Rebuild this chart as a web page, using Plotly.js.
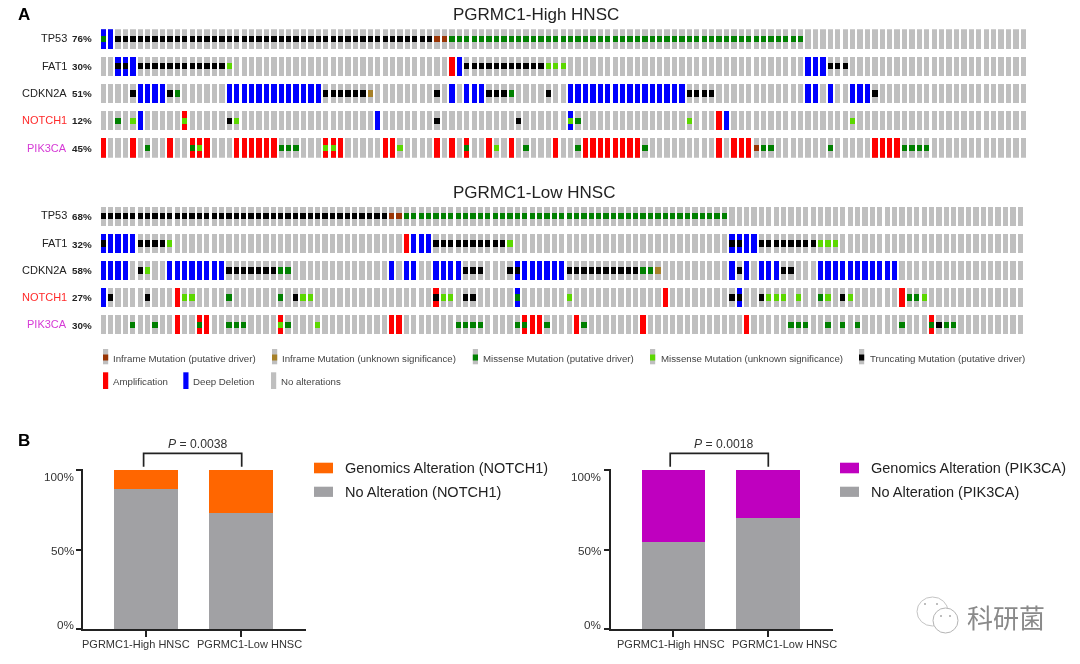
<!DOCTYPE html>
<html>
<head>
<meta charset="utf-8">
<script src="https://cdn.plot.ly/plotly-3.0.1.min.js"></script>
<style>html,body{margin:0;padding:0;background:#fff;overflow:hidden}#chart{width:1080px;height:664px;filter:blur(0.35px)}</style>
</head>
<body>
<div id="chart"></div>
<script>
// ---------- Oncoprint data: one list per gene, holding altered sample columns ----------
const genes = ['TP53', 'FAT1', 'CDKN2A', 'NOTCH1', 'PIK3CA'];
const geneColors = ['#222222', '#222222', '#222222', '#ff2a2a', '#d63ad6'];
const highPct = ['76%', '30%', '51%', '12%', '45%'];
const lowPct = ['68%', '32%', '58%', '27%', '30%'];
const sampleCount = 125;

const highAmp = [[], [47], [], [11, 83], [0,4,9,12,13,14,18,19,20,21,22,23,30,31,32,38,39,45,47,49,52,55,61,65,66,67,68,69,70,71,72,83,85,86,87,104,105,106,107]];
const highDel = [[0,1], [2,3,4,48,95,96,97], [5,6,7,8,17,18,19,20,21,22,23,24,25,26,27,28,29,47,49,50,51,63,64,65,66,67,68,69,70,71,72,73,74,75,76,77,78,95,96,98,101,102,103], [5,37,63,84], []];
const highMissense = [[0,47,48,49,50,51,52,53,54,55,56,57,58,59,60,61,62,63,64,65,66,67,68,69,70,71,72,73,74,75,76,77,78,79,80,81,82,83,84,85,86,87,88,89,90,91,92,93,94], [], [10,55], [2,64], [6,12,24,25,26,49,57,64,73,89,90,98,108,109,110,111]];
const highMissenseUnk = [[], [17,60,61,62], [], [4,11,18,63,79,101], [13,30,31,40,53]];
const highTrunc = [[2,3,4,5,6,7,8,9,10,11,12,13,14,15,16,17,18,19,20,21,22,23,24,25,26,27,28,29,30,31,32,33,34,35,36,37,38,39,40,41,42,43,44], [2,3,5,6,7,8,9,10,11,12,13,14,15,16,49,50,51,52,53,54,55,56,57,58,59,98,99,100], [4,9,30,31,32,33,34,35,45,52,53,54,60,79,80,81,82,104], [17,45,56], []];
const highInframe = [[45,46], [], [], [], [88]];
const highInframeUnk = [[], [], [36], [], []];

const lowAmp = [[], [41], [], [10,45,76,108], [10,13,14,24,39,40,57,58,59,64,73,87,112]];
const lowDel = [[], [0,1,2,3,4,42,43,44,85,86,87,88], [0,1,2,3,9,10,11,12,13,14,15,16,39,41,42,45,46,47,48,56,57,58,59,60,61,62,85,87,89,90,91,97,98,99,100,101,102,103,104,105,106,107], [0,56,86], []];
const lowMissense = [[41,42,43,44,45,46,47,48,49,50,51,52,53,54,55,56,57,58,59,60,61,62,63,64,65,66,67,68,69,70,71,72,73,74,75,76,77,78,79,80,81,82,83,84], [], [24,25,73,74], [17,24,56,97,109,110], [4,7,13,17,18,19,25,48,49,50,51,56,57,60,65,93,94,95,98,100,102,108,112,114,115]];
const lowMissenseUnk = [[], [9,55,97,98,99], [6], [11,12,27,28,46,47,63,90,91,92,94,98,101,111], [24,29]];
const lowTrunc = [[0,1,2,3,4,5,6,7,8,9,10,11,12,13,14,15,16,17,18,19,20,21,22,23,24,25,26,27,28,29,30,31,32,33,34,35,36,37,38], [0,5,6,7,8,45,46,47,48,49,50,51,52,53,54,85,86,89,90,91,92,93,94,95,96], [5,17,18,19,20,21,22,23,49,50,51,55,56,63,64,65,66,67,68,69,70,71,72,86,92,93], [1,6,26,45,49,50,85,86,89,100], [113]];
const lowInframe = [[39,40], [], [], [], []];
const lowInframeUnk = [[], [], [75], [], []];

// ---------- Stacked bar data (percent) ----------
const groups = ['PGRMC1-High HNSC', 'PGRMC1-Low HNSC'];
const notch1NoAlt = [88, 73];
const notch1Alt = [12, 27];
const pik3caNoAlt = [55, 70];
const pik3caAlt = [45, 30];
const pctTicks = [0, 50, 100];
const pctTickLabels = ['0%', '50%', '100%'];
const pctTickShift = [5, -1, -6];

// ---------- Styles ----------
const C = {grey:'#bfbfbf', amp:'#ff0000', del:'#0000ff', mis:'#008000', misU:'#5cd800', trunc:'#000000', inf:'#993404', infU:'#a68028',
           orange:'#ff6600', purple:'#bf00bf', bar:'#a1a1a4', axis:'#222222', text:'#333333'};
const SANS = '"Liberation Sans", Arial, sans-serif';
const W = 1080, H = 664;
const fx = p => p / W, fy = p => 1 - p / H;

// ---------- Trace helpers ----------
const COL_W = 0.715, ROW_H = 0.705, MUT_H = 0.235;
function collect(list, rowOffset, rowSpan) {
  const xs = [], bases = [], hs = [];
  list.forEach((cols, r) => cols.forEach(c => { xs.push(c); bases.push(r + rowOffset); hs.push(rowSpan); }));
  return {xs, bases, hs};
}
function barTrace(list, color, full, xa, ya) {
  const d = full ? collect(list, -ROW_H / 2, ROW_H) : collect(list, -MUT_H / 2, MUT_H);
  return {type:'bar', x:d.xs, y:d.hs, base:d.bases, width:COL_W, xaxis:xa, yaxis:ya, marker:{color:color, line:{width:0}}, hoverinfo:'skip', showlegend:false};
}
function bgTrace(xa, ya) {
  const all = genes.map(() => Array.from({length: sampleCount}, (_, i) => i));
  return barTrace(all, C.grey, true, xa, ya);
}
function panelTraces(xa, ya, amp, del, mis, misU, trunc, inf, infU) {
  return [bgTrace(xa, ya), barTrace(amp, C.amp, true, xa, ya), barTrace(del, C.del, true, xa, ya),
    barTrace(mis, C.mis, false, xa, ya), barTrace(misU, C.misU, false, xa, ya), barTrace(trunc, C.trunc, false, xa, ya),
    barTrace(inf, C.inf, false, xa, ya), barTrace(infU, C.infU, false, xa, ya)];
}
function stackTraces(xa, ya, noAlt, alt, color) {
  return [
    {type:'bar', x:groups, y:noAlt, width:0.67, xaxis:xa, yaxis:ya, marker:{color:C.bar, line:{width:0}}, hoverinfo:'skip', showlegend:false},
    {type:'bar', x:groups, y:alt, base:noAlt, width:0.67, xaxis:xa, yaxis:ya, marker:{color:color, line:{width:0}}, hoverinfo:'skip', showlegend:false}
  ];
}
const data = [].concat(
  panelTraces('x', 'y', highAmp, highDel, highMissense, highMissenseUnk, highTrunc, highInframe, highInframeUnk),
  panelTraces('x2', 'y2', lowAmp, lowDel, lowMissense, lowMissenseUnk, lowTrunc, lowInframe, lowInframeUnk),
  stackTraces('x3', 'y3', notch1NoAlt, notch1Alt, C.orange),
  stackTraces('x4', 'y4', pik3caNoAlt, pik3caAlt, C.purple)
);

// ---------- Annotations and shapes ----------
const annotations = [];
function label(text, x, y, size, o) {
  o = o || {};
  annotations.push({text, x: fx(x), y: o.yref ? y : fy(y), xref:'paper', yref:o.yref || 'paper', xanchor:o.anchor || 'left', yanchor:'middle', yshift:o.yshift || 0,
    showarrow:false, borderpad:0, font:{family:o.family || SANS, size, color:o.color || '#222222'}});
}
const shapes = [];
function rect(x0, x1, y0, y1, color) {
  shapes.push({type:'rect', xref:'paper', yref:'paper', x0:fx(x0), x1:fx(x1), y0:fy(y0), y1:fy(y1), fillcolor:color, line:{width:0}});
}
function bracket(x0, x1, top, bottom) {
  shapes.push({type:'path', xref:'paper', yref:'paper', line:{color:C.axis, width:1.7},
    path:`M ${fx(x0)} ${fy(bottom)} L ${fx(x0)} ${fy(top)} L ${fx(x1)} ${fy(top)} L ${fx(x1)} ${fy(bottom)}`});
}
function ellipse(x0, x1, y0, y1, fill, line) {
  shapes.push({type:'circle', xref:'paper', yref:'paper', x0:fx(x0), x1:fx(x1), y0:fy(y0), y1:fy(y1), fillcolor:fill, line:{color:line, width:line === 'rgba(0,0,0,0)' ? 0 : 1}});
}

label('<b>A</b>', 16.5, 14, 17, {color:'#000'});
label('<b>B</b>', 16.5, 440, 17, {color:'#000'});
label('PGRMC1-High HNSC', 452, 14.5, 17);
label('PGRMC1-Low HNSC', 452, 192.5, 17);

const highRowY = [38.5, 66, 93.3, 120.3, 147.5];
const lowRowY = [215, 243, 269.5, 296.5, 324];
genes.forEach((g, i) => {
  label(g, 68, highRowY[i], 11, {anchor:'right', color:geneColors[i]});
  label('<b>' + highPct[i] + '</b>', 93, highRowY[i] + 0.5, 9.8, {anchor:'right', color:'#222'});
  label(g, 68, lowRowY[i], 11, {anchor:'right', color:geneColors[i]});
  label('<b>' + lowPct[i] + '</b>', 93, lowRowY[i] + 1, 9.8, {anchor:'right', color:'#222'});
});

// Oncoprint legend
const legendTop = [
  ['Inframe Mutation (putative driver)', C.inf, 103, 112.3],
  ['Inframe Mutation (unknown significance)', C.infU, 272, 281.3],
  ['Missense Mutation (putative driver)', C.mis, 472.8, 482],
  ['Missense Mutation (unknown significance)', C.misU, 650, 659.5],
  ['Truncating Mutation (putative driver)', C.trunc, 859, 868.9]
];
legendTop.forEach(it => {
  rect(it[2], it[2] + 5.2, 349, 364.3, C.grey);
  rect(it[2], it[2] + 5.2, 354.5, 360.5, it[1]);
  label(it[0], it[3], 358, 9.7, {color:'#444'});
});
const legendBottom = [
  ['Amplification', C.amp, 103, 112.3],
  ['Deep Deletion', C.del, 183.3, 192.5],
  ['No alterations', C.grey, 271, 280]
];
legendBottom.forEach(it => {
  rect(it[2], it[2] + 5.2, 372.3, 389, it[1]);
  label(it[0], it[3], 381.7, 9.7, {color:'#444'});
});

// Panel B text and marks
function barPanelDecor(ya, tickRight, labelCx, bx0, bx1, pCx, pText, swX, txtX, altName, noName, altColor) {
  pctTicks.forEach((t, i) => label(pctTickLabels[i], tickRight, t, 11.7, {anchor:'right', yref:ya, yshift:pctTickShift[i], color:C.text}));
  groups.forEach((g, i) => label(g, labelCx[i], 643.5, 11, {anchor:'center', color:C.text}));
  bracket(bx0, bx1, 453.3, 466.7);
  label(pText, pCx, 444.3, 12.2, {anchor:'center', color:C.text});
  rect(swX, swX + 19, 462.7, 473.3, altColor);
  rect(swX, swX + 19, 486.7, 496.9, C.bar);
  label(altName, txtX, 467.5, 14.5, {color:'#222'});
  label(noName, txtX, 491.5, 14.5, {color:'#222'});
}
barPanelDecor('y3', 74.7, [135.5, 249.5], 143.6, 241.7, 197.7, '<i>P</i> = 0.0038', 314, 344.4, 'Genomics Alteration (NOTCH1)', 'No Alteration (NOTCH1)', C.orange);
barPanelDecor('y4', 602.3, [670.9, 784.9], 670.2, 768.3, 724.2, '<i>P</i> = 0.0018', 840, 869.5, 'Genomics Alteration (PIK3CA)', 'No Alteration (PIK3CA)', C.purple);

// Watermark
ellipse(917, 948, 597, 626, '#ffffff', '#c4c4c4');
ellipse(933, 958, 608, 633, '#ffffff', '#b4b4b4');
[[925, 604], [937, 604], [941, 616], [950, 616]].forEach(p => ellipse(p[0] - 1, p[0] + 1, p[1] - 1, p[1] + 1, '#a8a8a8', 'rgba(0,0,0,0)'));
label('科研菌', 966, 616, 26, {family:'"Noto Sans CJK SC", sans-serif', color:'#8a8a8a'});

// ---------- Axes ----------
function hiddenX(domPx, center, pitch) {
  return {domain:[fx(domPx[0]), fx(domPx[1])], range:[(domPx[0] - center) / pitch, (domPx[1] - center) / pitch], visible:false, fixedrange:true};
}
function hiddenY(domPx, half, last) {
  return {domain:[fy(domPx[1]), fy(domPx[0])], range:[last + half, -half], visible:false, fixedrange:true};
}
function barX(anchor, leftPx, rightPx, center, pitch) {
  return {anchor, domain:[fx(leftPx), fx(rightPx)], type:'category', categoryorder:'array', categoryarray:groups, range:[(leftPx - center) / pitch, (rightPx - center) / pitch],
    showticklabels:false, ticks:'outside', ticklen:5.5, tickwidth:1.7, tickcolor:C.axis, showline:true, linecolor:C.axis, linewidth:1.7, showgrid:false, zeroline:false, fixedrange:true};
}
function barY(anchor) {
  return {anchor, domain:[fy(629.3), fy(469)], range:[0, 100.7], tickmode:'array', tickvals:pctTicks, showticklabels:false, ticks:'outside', ticklen:5, tickwidth:1.7, tickcolor:C.axis,
    showline:true, linecolor:C.axis, linewidth:1.7, showgrid:false, zeroline:false, fixedrange:true};
}

const layout = {
  width:W, height:H, margin:{l:0, r:0, t:0, b:0, pad:0}, paper_bgcolor:'#ffffff', plot_bgcolor:'#ffffff',
  barmode:'overlay', bargap:0, showlegend:false, font:{family:SANS},
  xaxis: Object.assign(hiddenX([100, 1027], 103.2, 7.42), {anchor:'y'}),
  yaxis: Object.assign(hiddenY([29.3, 157.7], ROW_H / 2, 4), {anchor:'x'}),
  xaxis2: Object.assign(hiddenX([100, 1025], 103.2, 7.396), {anchor:'y2'}),
  yaxis2: Object.assign(hiddenY([206.7, 334.3], ROW_H / 2, 4), {anchor:'x2'}),
  xaxis3: barX('y3', 82.6, 305.8, 146.2, 95),
  yaxis3: barY('x3'),
  xaxis4: barX('y4', 610.6, 832.7, 673.3, 94.9),
  yaxis4: barY('x4'),
  annotations, shapes
};
Plotly.newPlot('chart', data, layout, {displayModeBar:false, staticPlot:true});
</script>
</body>
</html>
